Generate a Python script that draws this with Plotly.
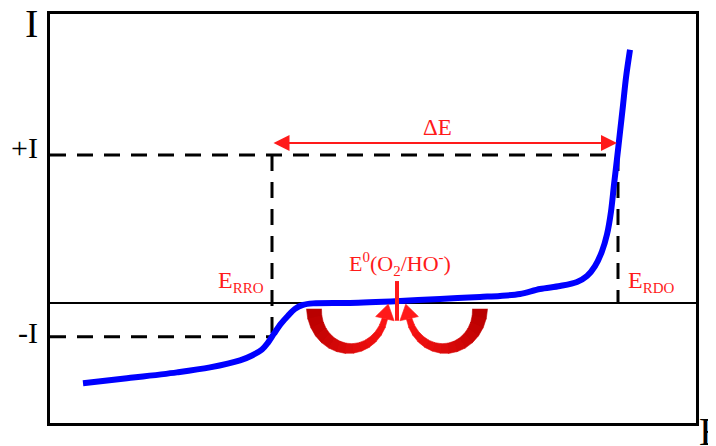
import numpy as np
import plotly.graph_objects as go

# ---- data (E in units, I in units) ----
curve_E = [0.33, 0.77, 1.27, 1.60, 1.90, 2.02, 2.12, 2.18, 2.24, 2.31, 2.38, 2.45, 2.53, 2.63,
           3.00, 3.50, 3.90, 4.30, 4.50, 4.70, 4.90, 5.10, 5.27, 5.37, 5.45, 5.52,
           5.57, 5.61, 5.64, 5.67, 5.70, 5.73, 5.76, 5.80]
curve_I = [-0.81, -0.76, -0.70, -0.65, -0.58, -0.53, -0.47, -0.40, -0.31, -0.21, -0.13, -0.06,
           -0.02, -0.005, 0.00, 0.02, 0.04, 0.06, 0.07, 0.09, 0.14, 0.17, 0.21, 0.27,
           0.37, 0.52, 0.69, 0.92, 1.19, 1.45, 1.72, 1.99, 2.27, 2.55]

I_plus = 1.49
I_minus = -0.34
E_RRO = 2.22
E_RDO = 5.68
E0 = 3.47
tick_vals = [I_plus, I_minus]
tick_text = ["+I", "-I"]
x_range = [0, 6.46]
y_range = [-1.21, 2.91]

SERIF = "Liberation Serif, Times New Roman, serif"
RED = "#FF1A1A"

fig = go.Figure()

# zero line
fig.add_shape(type="line", xref="paper", x0=0, x1=1, yref="y", y0=0, y1=0,
              line=dict(color="black", width=2), layer="below")

# dashed guide lines
dash = "16px,11px"
for (xa, ya, xb, yb) in [(0, I_plus, E_RDO, I_plus), (E_RRO, I_plus, E_RRO, I_minus),
                         (0, I_minus, E_RRO, I_minus), (E_RDO, I_plus, E_RDO, 0)]:
    fig.add_shape(type="line", x0=xa, y0=ya, x1=xb, y1=yb, layer="below",
                  line=dict(color="black", width=3, dash=dash))

# polarization curve
fig.add_trace(go.Scatter(x=curve_E, y=curve_I, mode="lines",
                         line=dict(color="#0000FF", width=6, shape="spline", smoothing=0.9),
                         hoverinfo="skip"))

# curved arrows (crescent shapes) around E0
def crescent(cx, s, cy=-0.06, rx=0.36, ry=0.40, th_end=0.25, nseg=14):
    ths = np.linspace(np.pi, th_end, nseg + 1)
    def w(th):
        t = (np.pi - th) / (np.pi - th_end)
        return 0.15 * (1 - t) + 0.055 * t
    for k in range(nseg):
        th = np.linspace(ths[k], ths[k + 1] - (0.02 if k < nseg - 1 else 0), 8)
        ww = w(th)
        ox = cx + s * (rx + ww / 2) * np.cos(th)
        oy = cy - (ry + ww / 2) * np.sin(th)
        ix = cx + s * (rx - ww / 2) * np.cos(th)
        iy = cy - (ry - ww / 2) * np.sin(th)
        px = np.concatenate([ox, ix[::-1]])
        py = np.concatenate([oy, iy[::-1]])
        f = k / nseg
        col = "rgb(%d,%d,%d)" % (int(185 + 70 * f), int(0 + 20 * f), int(0 + 20 * f))
        fig.add_trace(go.Scatter(x=px, y=py, mode="lines", fill="toself", fillcolor=col,
                                 line=dict(color=col, width=0.6), hoverinfo="skip"))
    # arrow head
    th = th_end
    ex = cx + s * rx * np.cos(th)
    ey = cy - ry * np.sin(th)
    d = np.array([s * rx * np.sin(th), ry * np.cos(th)])
    d = d / np.linalg.norm(d)
    n = np.array([-d[1], d[0]])
    hw, L = 0.095, 0.15
    tx = [ex + n[0] * hw, ex - n[0] * hw, ex + d[0] * L, ex + n[0] * hw]
    ty = [ey + n[1] * hw, ey - n[1] * hw, ey + d[1] * L, ey + n[1] * hw]
    fig.add_trace(go.Scatter(x=tx, y=ty, mode="lines", fill="toself", fillcolor=RED,
                             line=dict(color=RED, width=0.6), hoverinfo="skip"))

crescent(E0 - 0.47, 1)
crescent(E0 + 0.47, -1)

# E0 marker
fig.add_shape(type="line", x0=E0, x1=E0, y0=0.22, y1=-0.18, line=dict(color=RED, width=4))

# Delta E double arrow
fig.add_annotation(x=E_RDO - 0.01, y=1.61, ax=E_RRO, ay=1.61, axref="x", ayref="y",
                   text="", showarrow=True, arrowside="end+start", arrowhead=2,
                   arrowsize=1.6, arrowwidth=2, arrowcolor=RED, standoff=0, startstandoff=0)
fig.add_annotation(x=3.87, y=1.77, text="ΔE", showarrow=False,
                   font=dict(family=SERIF, size=23, color=RED))

sub = "<sub><span style='font-size:15px'>%s</span></sub>"
fig.add_annotation(x=1.66, y=0.22, xanchor="left", yanchor="middle", showarrow=False,
                   text="E" + sub % "RRO", font=dict(family=SERIF, size=24, color=RED))
fig.add_annotation(x=5.76, y=0.22, xanchor="left", yanchor="middle", showarrow=False,
                   text="E" + sub % "RDO", font=dict(family=SERIF, size=24, color=RED))
fig.add_annotation(x=E0 + 0.03, y=0.39, showarrow=False,
                   text="E<sup><span style='font-size:15px'>0</span></sup>(O"
                        "<sub><span style='font-size:15px'>2</span></sub>/HO"
                        "<sup><span style='font-size:15px'>-</span></sup>)",
                   font=dict(family=SERIF, size=22, color=RED))

# tick labels (+I / -I), placed slightly above their levels as in the original
for v, t, dy in zip(tick_vals, tick_text, [7, 4]):
    fig.add_annotation(xref="paper", yref="y", x=-0.0155, y=v, xanchor="right",
                       yanchor="middle", yshift=dy, text=t, showarrow=False,
                       font=dict(family=SERIF, size=30, color="black"))

# axis letters
fig.add_annotation(xref="paper", yref="paper", x=-0.029, y=0.976, xanchor="center",
                   yanchor="middle", text="I", showarrow=False,
                   font=dict(family=SERIF, size=40, color="black"))
fig.add_annotation(xref="paper", yref="paper", x=1.0015, y=0.039, xanchor="left",
                   yanchor="top", text="E", showarrow=False,
                   font=dict(family=SERIF, size=40, color="black"))

fig.update_layout(
    width=708, height=438, margin=dict(l=42, r=20, t=3, b=23),
    paper_bgcolor="white", plot_bgcolor="white", showlegend=False,
    xaxis=dict(range=x_range, showgrid=False, zeroline=False, showline=True, mirror=True,
               linewidth=3, linecolor="black", showticklabels=False, ticks=""),
    yaxis=dict(range=y_range, showgrid=False, zeroline=False, showline=True, mirror=True,
               linewidth=3, linecolor="black", tickvals=tick_vals,
               showticklabels=False, ticks=""),
)

fig.write_html("out.html")
